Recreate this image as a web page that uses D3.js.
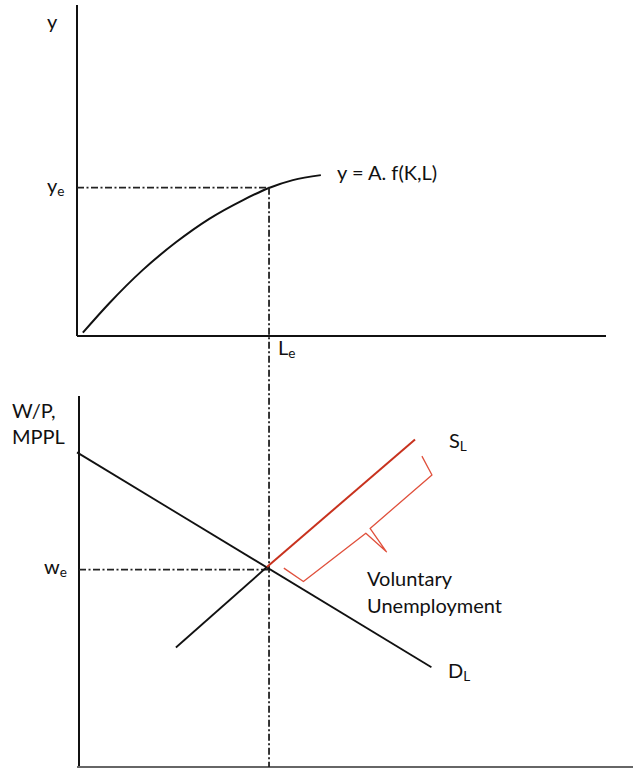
<!DOCTYPE html>
<meta charset="utf-8">
<script src="https://d3js.org/d3.v7.min.js"></script>
<style>
  body { margin: 0; background: #fff; }
  text { font-family: Lato, "Open Sans", sans-serif; fill: #111; }
</style>
<body>
<div id="chart"></div>
<script>

// production function y = A.f(K,L)  (L, y) in 0..100 units
var prodL = [1.1, 6.1, 12.4, 18.7, 25.0, 31.3, 36.4, 40.8, 46.1];
var prodY = [1.0, 9.9, 19.9, 28.3, 35.4, 41.0, 44.8, 47.1, 48.6];

// labour market, W/P in 0..100 units
var demandL = [0, 67.0];
var demandW = [84.8, 26.9];
var supplyBlackL = [18.7, 35.9];
var supplyBlackW = [32.2, 53.9];
var supplyRedL = [35.9, 63.9];
var supplyRedW = [53.9, 88.3];
var bracketL = [65.2, 67.1, 55.4, 58.5, 54.6, 42.8, 39.1];
var bracketW = [83.8, 78.7, 64.3, 58.0, 63.0, 50.0, 53.6];

var Le = 36.3, ye = 44.8, we = 53.2;

var W = 633, H = 768;

var svg = d3.select("#chart").append("svg")
  .attr("width", W).attr("height", H);

var x = d3.scaleLinear().domain([0, 100]).range([77, 606]);
var yTop = d3.scaleLinear().domain([0, 100]).range([336, 5]);
var yBot = d3.scaleLinear().domain([0, 100]).range([767, 396]);

var dashDot = "7,2.5,2,2.5";

// axes, top panel
svg.append("line")
  .attr("x1", x(0)).attr("x2", x(0))
  .attr("y1", yTop(100)).attr("y2", yTop(0))
  .attr("stroke", "#111").attr("stroke-width", 2);
svg.append("line")
  .attr("x1", x(0)).attr("x2", x(100))
  .attr("y1", yTop(0)).attr("y2", yTop(0))
  .attr("stroke", "#111").attr("stroke-width", 2.2);

// axes, bottom panel
svg.append("line")
  .attr("x1", x(0) + 2).attr("x2", x(0) + 2)
  .attr("y1", yBot(100)).attr("y2", yBot(0))
  .attr("stroke", "#111").attr("stroke-width", 2);
svg.append("line")
  .attr("x1", x(0)).attr("x2", W)
  .attr("y1", yBot(0)).attr("y2", yBot(0))
  .attr("stroke", "#666").attr("stroke-width", 2);

// production curve
var prodLine = d3.line()
  .x(function(d, i) { return x(prodL[i]); })
  .y(function(d, i) { return yTop(prodY[i]); })
  .curve(d3.curveMonotoneX);

svg.append("path")
  .datum(prodL)
  .attr("d", prodLine)
  .attr("fill", "none")
  .attr("stroke", "#111")
  .attr("stroke-width", 2);

// dash-dot guides
svg.append("line")
  .attr("x1", x(0)).attr("x2", x(Le))
  .attr("y1", yTop(ye)).attr("y2", yTop(ye))
  .attr("stroke", "#222").attr("stroke-width", 1.8)
  .attr("stroke-dasharray", dashDot);
svg.append("line")
  .attr("x1", x(Le)).attr("x2", x(Le))
  .attr("y1", yTop(ye)).attr("y2", yBot(0))
  .attr("stroke", "#222").attr("stroke-width", 1.8)
  .attr("stroke-dasharray", dashDot);
svg.append("line")
  .attr("x1", x(0) + 2).attr("x2", x(Le))
  .attr("y1", yBot(we)).attr("y2", yBot(we))
  .attr("stroke", "#222").attr("stroke-width", 1.8)
  .attr("stroke-dasharray", dashDot);

// labour market lines
var seg = function(Ls, Ws) {
  return d3.line()
    .x(function(d, i) { return x(Ls[i]); })
    .y(function(d, i) { return yBot(Ws[i]); })(Ls);
};

svg.append("path").attr("d", seg(demandL, demandW))
  .attr("fill", "none").attr("stroke", "#111").attr("stroke-width", 1.8);
svg.append("path").attr("d", seg(supplyBlackL, supplyBlackW))
  .attr("fill", "none").attr("stroke", "#111").attr("stroke-width", 1.8);
svg.append("path").attr("d", seg(supplyRedL, supplyRedW))
  .attr("fill", "none").attr("stroke", "#c8321e").attr("stroke-width", 2);
svg.append("path").attr("d", seg(bracketL, bracketW))
  .attr("fill", "none").attr("stroke", "#e0503c").attr("stroke-width", 1.3)
  .attr("stroke-linejoin", "round");

// labels
function label(tx, ty, str, size, sub) {
  var t = svg.append("text")
    .attr("x", tx).attr("y", ty)
    .style("font-size", size + "px")
    .text(str);
  if (sub) {
    t.append("tspan")
      .attr("dy", 3)
      .style("font-size", (size * 0.68) + "px")
      .text(sub);
  }
  return t;
}

label(47, 29, "y", 20);
label(47, 193, "y", 20, "e");
label(337, 180, "y = A. f(K,L)", 20);
label(278, 355, "L", 20, "e");
label(12, 418, "W/P,", 20);
label(12, 444, "MPPL", 20);
label(44, 574, "w", 20, "e");
label(449, 448, "S", 20, "L");
label(448, 678, "D", 20, "L");
label(367, 586, "Voluntary", 20);
label(367, 613, "Unemployment", 20);

</script>
</body>
